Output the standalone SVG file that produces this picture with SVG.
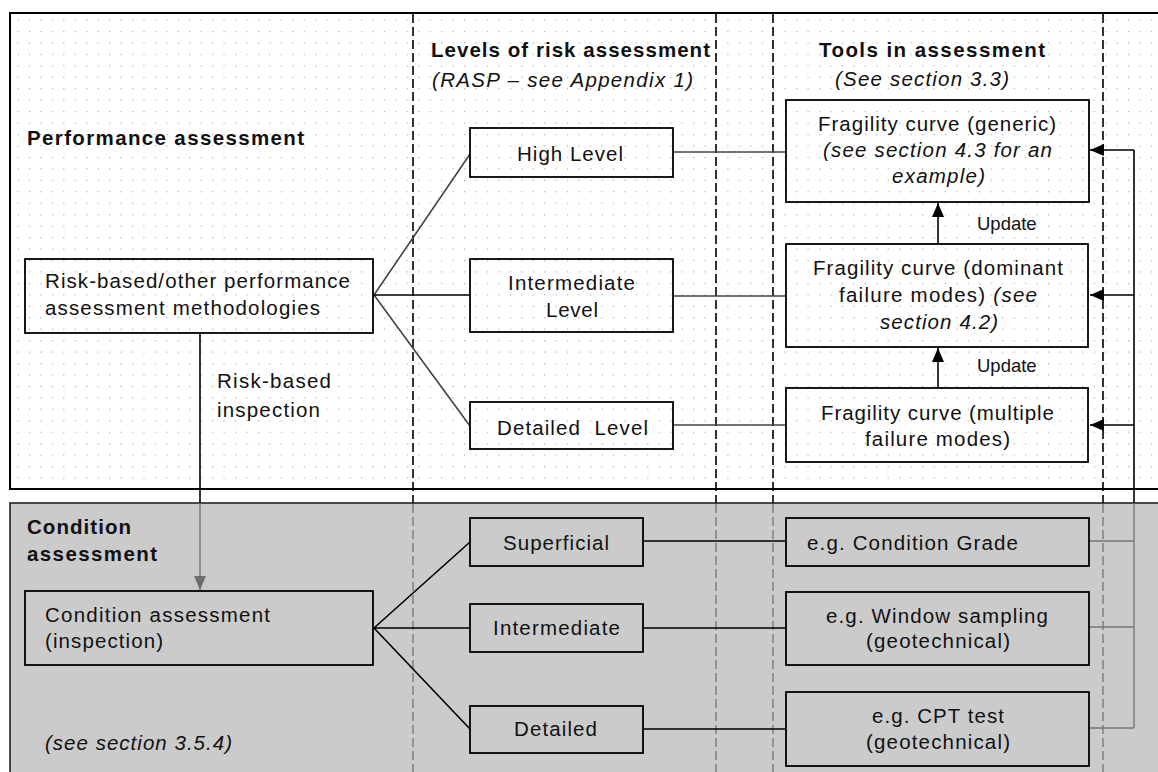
<svg xmlns="http://www.w3.org/2000/svg" width="1158" height="772" viewBox="0 0 1158 772">
  <defs>
    <pattern id="dots" x="6" y="8" width="11.45" height="11.45" patternUnits="userSpaceOnUse">
      <rect x="0" y="0" width="1.2" height="1.2" fill="#ababab"/>
    </pattern>
    <marker id="arrow" markerUnits="userSpaceOnUse" markerWidth="14" markerHeight="12" refX="14" refY="6" orient="auto">
      <path d="M0,0 L14,6 L0,12 z" fill="#000"/>
    </marker>
    <marker id="arrowGrey" markerUnits="userSpaceOnUse" markerWidth="14" markerHeight="12" refX="14" refY="6" orient="auto">
      <path d="M0,0 L14,6 L0,12 z" fill="#6e6e6e"/>
    </marker>
    <style>
      .panel { stroke: #000; stroke-width: 2; }
      .box { fill: none; stroke: #000; stroke-width: 1.8; }
      .lane { fill: none; stroke: #000; stroke-width: 1.6; stroke-dasharray: 9 4; }
      .laneGrey { fill: none; stroke: #7a7a7a; stroke-width: 1.4; stroke-dasharray: 9 4; }
      .wire { fill: none; stroke: #000; stroke-width: 1.6; }
      .wireSoft { fill: none; stroke: #444; stroke-width: 1.6; }
      .wireGrey { fill: none; stroke: #777; stroke-width: 1.4; }
      text { font-family: "Liberation Sans", Arial, sans-serif; font-size: 20.5px; fill: #111; }
      .b { font-weight: bold; }
      .i { font-style: italic; }
      .small { font-size: 18.5px; }
    </style>
  </defs>

  <rect width="1158" height="772" fill="#fff"/>

  <!-- performance assessment band -->
  <g id="performance-panel">
    <rect x="10" y="13" width="1160" height="476" fill="#fff" class="panel"/>
    <rect x="11" y="14" width="1158" height="474" fill="url(#dots)"/>
    <text class="b" x="27" y="145" textLength="277" lengthAdjust="spacing">Performance assessment</text>
  </g>

  <!-- condition assessment band -->
  <g id="condition-panel">
    <rect x="10" y="503" width="1160" height="280" fill="#cbcbcb" stroke="#222" stroke-width="1.6"/>
    <text class="b" x="27" y="534" textLength="104" lengthAdjust="spacing">Condition</text>
    <text class="b" x="27" y="561" textLength="130" lengthAdjust="spacing">assessment</text>
    <text class="i" x="45" y="750" textLength="187" lengthAdjust="spacing">(see section 3.5.4)</text>
  </g>

  <!-- column separators -->
  <g id="lanes">
    <path class="lane" d="M413,14 V503 M716,14 V503 M773,14 V503 M1103,14 V503"/>
    <path class="laneGrey" d="M413,504 V772 M716,504 V772 M773,504 V772 M1103,504 V772"/>
  </g>

  <!-- column headings -->
  <g id="headings">
    <text class="b" x="431" y="57" textLength="279" lengthAdjust="spacing">Levels of risk assessment</text>
    <text class="i" x="432" y="87" textLength="261" lengthAdjust="spacing">(RASP – see Appendix 1)</text>
    <text class="b" x="819" y="57" textLength="226" lengthAdjust="spacing">Tools in assessment</text>
    <text class="i" x="835" y="86" textLength="174" lengthAdjust="spacing">(See section 3.3)</text>
  </g>

  <!-- connectors -->
  <g id="connectors">
    <!-- performance fan -->
    <path class="wireSoft" d="M374,295 L470,154 M374,295 L470,426"/>
    <path class="wire" d="M374,295 H470"/>
    <path class="wireSoft" d="M673,152 H786 M673,296 H786 M673,425 H786"/>
    <!-- condition fan -->
    <path class="wire" d="M374,628 L470,542 M374,628 H470 M374,628 L470,729"/>
    <path class="wire" d="M643,541 H786 M643,628 H786 M643,729 H786"/>
    <!-- update arrows -->
    <path class="wire" d="M938,244 V203" marker-end="url(#arrow)"/>
    <path class="wire" d="M938,388 V348" marker-end="url(#arrow)"/>
    <!-- feedback from condition tools -->
    <path class="wire" d="M1134,150 V503"/>
    <path class="wireGrey" d="M1134,503 V728 M1089,541 H1134 M1089,627 H1134 M1089,728 H1134"/>
    <path class="wire" d="M1134,150 H1090" marker-end="url(#arrow)"/>
    <path class="wire" d="M1134,295 H1090" marker-end="url(#arrow)"/>
    <path class="wire" d="M1134,425 H1090" marker-end="url(#arrow)"/>
    <!-- risk-based inspection -->
    <path class="wire" d="M200,333 V503"/>
    <path class="wireGrey" d="M200,503 V590" marker-end="url(#arrowGrey)"/>
  </g>

  <g id="risk-based-label">
    <text x="217" y="388" textLength="114" lengthAdjust="spacing">Risk-based</text>
    <text x="217" y="417" textLength="103" lengthAdjust="spacing">inspection</text>
  </g>

  <g id="node-methodologies">
    <rect class="box" x="25" y="259" width="348" height="74"/>
    <text x="45" y="288" textLength="305" lengthAdjust="spacing">Risk-based/other performance</text>
    <text x="45" y="315" textLength="275" lengthAdjust="spacing">assessment methodologies</text>
  </g>

  <g id="node-high-level">
    <rect class="box" x="470" y="128" width="203" height="49"/>
    <text x="517" y="161" textLength="106" lengthAdjust="spacing">High Level</text>
  </g>

  <g id="node-intermediate-level">
    <rect class="box" x="470" y="259" width="203" height="73"/>
    <text x="508" y="290" textLength="127" lengthAdjust="spacing">Intermediate</text>
    <text x="546" y="317" textLength="52" lengthAdjust="spacing">Level</text>
  </g>

  <g id="node-detailed-level">
    <rect class="box" x="470" y="402" width="203" height="47"/>
    <text x="497" y="435" textLength="151" lengthAdjust="spacing" xml:space="preserve">Detailed  Level</text>
  </g>

  <g id="node-fragility-generic">
    <rect class="box" x="786" y="100" width="303" height="102"/>
    <text x="818" y="131" textLength="238" lengthAdjust="spacing">Fragility curve (generic)</text>
    <text class="i" x="823" y="157" textLength="229" lengthAdjust="spacing">(see section 4.3 for an</text>
    <text class="i" x="892" y="183" textLength="93" lengthAdjust="spacing">example)</text>
  </g>

  <g id="update-label-1">
    <text class="small" x="977" y="230">Update</text>
  </g>

  <g id="node-fragility-dominant">
    <rect class="box" x="786" y="244" width="302" height="103"/>
    <text x="813" y="275" textLength="250" lengthAdjust="spacing">Fragility curve (dominant</text>
    <text x="839" y="302" textLength="198" lengthAdjust="spacing">failure modes) <tspan class="i">(see</tspan></text>
    <text class="i" x="880" y="329" textLength="118" lengthAdjust="spacing">section 4.2)</text>
  </g>

  <g id="update-label-2">
    <text class="small" x="977" y="372">Update</text>
  </g>

  <g id="node-fragility-multiple">
    <rect class="box" x="786" y="388" width="302" height="74"/>
    <text x="821" y="420" textLength="233" lengthAdjust="spacing">Fragility curve (multiple</text>
    <text x="865" y="446" textLength="145" lengthAdjust="spacing">failure modes)</text>
  </g>

  <g id="node-condition-inspection">
    <rect class="box" x="25" y="591" width="348" height="74"/>
    <text x="45" y="622" textLength="225" lengthAdjust="spacing">Condition assessment</text>
    <text x="45" y="648" textLength="118" lengthAdjust="spacing">(inspection)</text>
  </g>

  <g id="node-superficial">
    <rect class="box" x="470" y="518" width="173" height="48"/>
    <text x="503" y="550" textLength="106" lengthAdjust="spacing">Superficial</text>
  </g>

  <g id="node-intermediate">
    <rect class="box" x="470" y="604" width="173" height="48"/>
    <text x="493" y="635" textLength="127" lengthAdjust="spacing">Intermediate</text>
  </g>

  <g id="node-detailed">
    <rect class="box" x="470" y="706" width="173" height="47"/>
    <text x="514" y="736" textLength="83" lengthAdjust="spacing">Detailed</text>
  </g>

  <g id="node-condition-grade">
    <rect class="box" x="786" y="518" width="303" height="48"/>
    <text x="807" y="550" textLength="211" lengthAdjust="spacing">e.g. Condition Grade</text>
  </g>

  <g id="node-window-sampling">
    <rect class="box" x="786" y="592" width="303" height="73"/>
    <text x="826" y="623" textLength="222" lengthAdjust="spacing">e.g. Window sampling</text>
    <text x="866" y="648" textLength="144" lengthAdjust="spacing">(geotechnical)</text>
  </g>

  <g id="node-cpt-test">
    <rect class="box" x="786" y="692" width="303" height="74"/>
    <text x="872" y="723" textLength="132" lengthAdjust="spacing">e.g. CPT test</text>
    <text x="866" y="749" textLength="144" lengthAdjust="spacing">(geotechnical)</text>
  </g>
</svg>
